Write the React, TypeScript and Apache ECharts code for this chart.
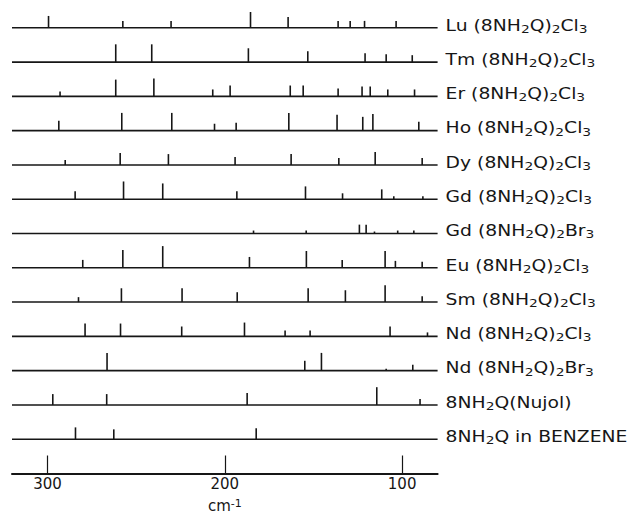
import React, { useEffect, useRef } from 'react';
import * as echarts from 'echarts';

// Wavenumber axis (cm^-1), drawn reversed: high values on the left
const X_MIN = 80;
const X_MAX = 320;
const X_TICKS = [300, 200, 100];

// Each row: [wavenumber cm^-1, relative intensity]
const LU = [[299.4, 12], [257.5, 7], [230.3, 7], [185.5, 16], [164.3, 11], [136.1, 7], [129.3, 7], [121.2, 7], [103.4, 7]];
const TM = [[261.5, 18], [241.2, 18], [186.7, 14], [153.2, 11], [120.9, 9], [109, 8], [94.3, 7]];
const ER = [[292.9, 5], [261.5, 17], [240, 18], [206.8, 7], [197, 11], [163.1, 11], [155.8, 11], [136.1, 8], [122.6, 10], [118, 10], [108.1, 7], [93, 7]];
const HO = [[293.6, 10], [258.1, 18], [229.9, 18], [205.8, 7], [193.6, 8], [163.9, 18], [136.7, 16], [122.2, 14], [116.5, 17], [90.6, 9]];
const DY = [[290, 5], [259, 12], [231.8, 11], [194.2, 8], [162.6, 11], [135.7, 7], [115.2, 13], [88.7, 7]];
const GD_CL = [[284.4, 8], [257.1, 18], [235, 16], [193.2, 8], [154.5, 13], [133.6, 6], [111.5, 10], [104.7, 3], [88.3, 3]];
const GD_BR = [[183.8, 3], [154.1, 3], [124.1, 9], [120.3, 9], [115.6, 2], [102.5, 3], [93.4, 3]];
const EU = [[280.1, 8], [257.5, 18], [235, 22], [186.1, 11], [154, 17], [133.8, 8], [109.6, 17], [103.8, 7], [88.7, 6]];
const SM = [[282.5, 5], [258.3, 14], [224.1, 14], [193, 10], [153, 14], [132, 12], [109.6, 17], [88.7, 6]];
const ND_CL = [[278.8, 13], [258.8, 13], [224.3, 10], [188.9, 14], [166, 6], [151.9, 6], [106.8, 10], [85.7, 4]];
const ND_BR = [[266.4, 18], [154.9, 10], [145.5, 18], [109, 2], [94, 6]];
const NUJOL = [[297, 11], [266.6, 11], [187.4, 12], [114.3, 18], [89.9, 6]];
const BENZENE = [[284.2, 12], [262.6, 10], [182.3, 11]];

const ROW_SPECTRA = [LU, TM, ER, HO, DY, GD_CL, GD_BR, EU, SM, ND_CL, ND_BR, NUJOL, BENZENE];
const METALS = ['Lu', 'Tm', 'Er', 'Ho', 'Dy', 'Gd', 'Gd', 'Eu', 'Sm', 'Nd', 'Nd'];
const HALIDES = ['Cl', 'Cl', 'Cl', 'Cl', 'Cl', 'Cl', 'Br', 'Cl', 'Cl', 'Cl', 'Br'];
const LIGAND_SUFFIX = ['(Nujol)', ' in BENZENE'];

const N_ROWS = ROW_SPECTRA.length;
const ROW_PX = 34.77; // pixel height of one row, used to turn intensity into axis units
const FONT = 'DejaVu Sans';
const INK = '#161616';

function rowLabel(i: number): string {
  if (i < METALS.length) {
    return `{t|${METALS[i]} (8NH}{s|2}{t|Q)}{s|2}{t|${HALIDES[i]}}{s|3}`;
  }
  return `{t|8NH}{s|2}{t|Q${LIGAND_SUFFIX[i - METALS.length]}}`;
}

const RICH = {
  t: { fontSize: 15, fontFamily: FONT, lineHeight: 18, fill: INK, color: INK },
  s: { fontSize: 11, fontFamily: FONT, lineHeight: 9, verticalAlign: 'bottom', fill: INK, color: INK },
};

export default function App() {
  const ref = useRef<HTMLDivElement>(null);

  useEffect(() => {
    if (!ref.current) return;
    const chart = echarts.init(ref.current, null, { renderer: 'svg' });

    const stickData: number[][] = [];
    ROW_SPECTRA.forEach((row, r) => {
      row.forEach(([w, h]) => stickData.push([w, N_ROWS - r, h]));
    });
    const baseData = ROW_SPECTRA.map((_, r) => [X_MIN, N_ROWS - r]);

    chart.setOption({
      animation: false,
      backgroundColor: '#ffffff',
      grid: { left: 12, right: 198.4, top: 10.65, bottom: 38 },
      xAxis: {
        type: 'value',
        min: X_MIN,
        max: X_MAX,
        inverse: true,
        splitLine: { show: false },
        axisLine: { lineStyle: { color: INK, width: 2 } },
        axisTick: { customValues: X_TICKS, inside: true, length: 18, lineStyle: { color: INK, width: 1.2 } },
        axisLabel: { customValues: X_TICKS, fontSize: 15, fontFamily: FONT, color: INK, margin: 3 },
        name: '{a|cm}{b|-1}',
        nameLocation: 'middle',
        nameGap: 24,
        nameTextStyle: {
          rich: {
            a: { fontSize: 15, fontFamily: FONT, color: INK, lineHeight: 16 },
            b: { fontSize: 11, fontFamily: FONT, color: INK, lineHeight: 8, verticalAlign: 'top' },
          },
        },
      },
      yAxis: { type: 'value', min: 0, max: N_ROWS + 0.5, show: false },
      series: [
        {
          type: 'custom',
          silent: true,
          data: baseData,
          renderItem: (_params: any, api: any) => {
            const v = api.value(1);
            const r = N_ROWS - v;
            const left = api.coord([X_MAX, v]);
            const right = api.coord([X_MIN, v]);
            return {
              type: 'group',
              children: [
                {
                  type: 'line',
                  shape: { x1: left[0], y1: left[1], x2: right[0], y2: right[1] },
                  style: { stroke: INK, lineWidth: 1.6 },
                },
                {
                  type: 'text',
                  x: right[0] + 8,
                  y: right[1] - 2.5,
                  scaleX: 1.25,
                  style: {
                    text: rowLabel(r),
                    rich: RICH,
                    fill: INK,
                    align: 'left',
                    verticalAlign: 'middle',
                  },
                },
              ],
            };
          },
        },
        {
          type: 'custom',
          silent: true,
          data: stickData,
          renderItem: (_params: any, api: any) => {
            const w = api.value(0);
            const base = api.value(1);
            const h = api.value(2);
            const p0 = api.coord([w, base]);
            const p1 = api.coord([w, base + h / ROW_PX]);
            return {
              type: 'line',
              shape: { x1: p0[0], y1: p0[1], x2: p1[0], y2: p1[1] },
              style: { stroke: INK, lineWidth: 1.6 },
            };
          },
        },
      ],
    });

    return () => chart.dispose();
  }, []);

  return (
    <div
      ref={ref}
      style={{ position: 'absolute', left: 0, top: 0, width: 636, height: 518, background: '#fff' }}
    />
  );
}
